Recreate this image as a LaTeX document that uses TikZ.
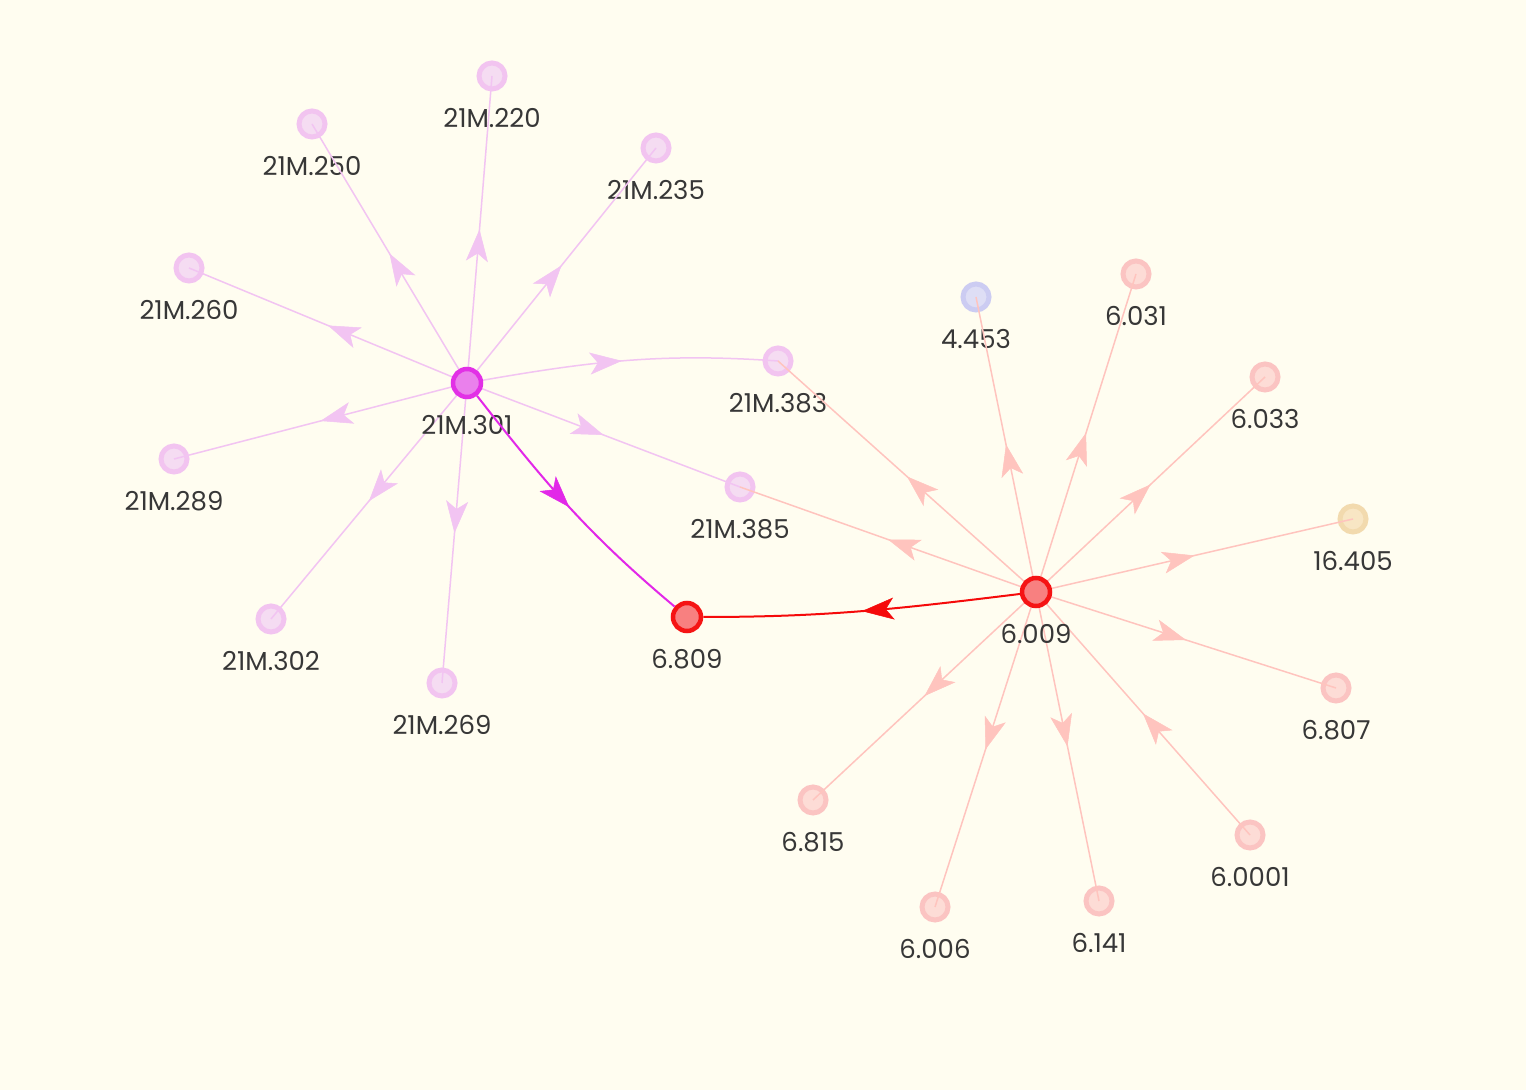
\documentclass[tikz,border=0pt]{standalone}
\usepackage{fontspec}
\setmainfont{Poppins}
\usetikzlibrary{arrows.meta,decorations.markings}
\definecolor{bg}{RGB}{255,253,240}
\definecolor{txt}{RGB}{55,55,55}
\definecolor{pinkline}{RGB}{242,196,242}
\definecolor{pinkfill}{RGB}{245,220,242}
\definecolor{pinkring}{RGB}{242,196,240}
\definecolor{hubpinkfill}{RGB}{234,128,236}
\definecolor{hubpinkring}{RGB}{226,48,230}
\definecolor{mainpink}{RGB}{226,40,232}
\definecolor{redline}{RGB}{255,196,190}
\definecolor{redfill}{RGB}{253,220,214}
\definecolor{redring}{RGB}{251,196,194}
\definecolor{hubredfill}{RGB}{248,128,128}
\definecolor{hubredring}{RGB}{245,20,20}
\definecolor{mainred}{RGB}{245,10,10}
\definecolor{bluefill}{RGB}{222,222,245}
\definecolor{bluering}{RGB}{204,204,242}
\definecolor{orangefill}{RGB}{248,230,196}
\definecolor{orangering}{RGB}{242,218,174}
\tikzset{
  leaf/.style={circle,inner sep=0pt,minimum size=26pt,line width=5pt},
  pinkleaf/.style={leaf,fill=pinkfill,draw=pinkring},
  redleaf/.style={leaf,fill=redfill,draw=redring},
  blueleaf/.style={leaf,fill=bluefill,draw=bluering},
  orangeleaf/.style={leaf,fill=orangefill,draw=orangering},
  hubpink/.style={circle,inner sep=0pt,minimum size=28pt,line width=4.5pt,fill=hubpinkfill,draw=hubpinkring},
  hubred/.style={circle,inner sep=0pt,minimum size=28pt,line width=4.5pt,fill=hubredfill,draw=hubredring},
  lbl/.style={inner sep=0pt,text=txt,font=\fontsize{26}{30}\selectfont},
  midarrow/.style={postaction={decorate},decoration={markings,mark=at position 0.5 with {\arrow[line width=0.5pt]{Stealth[length=32pt,width=22pt,inset=8pt]}}}},
  pinkspoke/.style={color=pinkline,line width=1.5pt,midarrow},
  redspoke/.style={color=redline,line width=1.5pt,midarrow},
  mainedge/.style={line width=2pt,midarrow},
}
\newcommand\vtx[5]{\node[#4] (#1) at (#2,#3) {}; \node[lbl] (#1-l) at (#2,#3-42) {#5};}
\begin{document}
\begin{tikzpicture}[x=1pt,y=1pt]
\useasboundingbox (0,0) rectangle (1526,1090);
\fill[bg] (0,0) rectangle (1526,1090);
% leaves
\vtx{a220}{492}{1014}{pinkleaf}{21M.220}
\vtx{a250}{312}{966}{pinkleaf}{21M.250}
\vtx{a235}{656}{942}{pinkleaf}{21M.235}
\vtx{a260}{189}{822}{pinkleaf}{21M.260}
\vtx{a289}{174}{631}{pinkleaf}{21M.289}
\vtx{a302}{271}{471}{pinkleaf}{21M.302}
\vtx{a269}{442}{407}{pinkleaf}{21M.269}
\vtx{a383}{778}{729}{pinkleaf}{21M.383}
\vtx{a385}{740}{603}{pinkleaf}{21M.385}
\vtx{b4453}{976}{793}{blueleaf}{4.453}
\vtx{b6031}{1136}{816}{redleaf}{6.031}
\vtx{b6033}{1265}{713}{redleaf}{6.033}
\vtx{b16405}{1353}{571}{orangeleaf}{16.405}
\vtx{b6807}{1336}{402}{redleaf}{6.807}
\vtx{b60001}{1250}{255}{redleaf}{6.0001}
\vtx{b6141}{1099}{189}{redleaf}{6.141}
\vtx{b6006}{935}{183}{redleaf}{6.006}
\vtx{b6815}{813}{290}{redleaf}{6.815}
% hub coordinates
\coordinate (hpc) at (467,707);
\coordinate (hrc) at (1036,498);
% pink spokes
\draw[pinkspoke] (hpc) -- (a220.center);
\draw[pinkspoke] (hpc) -- (a250.center);
\draw[pinkspoke] (hpc) -- (a235.center);
\draw[pinkspoke] (hpc) -- (a260.center);
\draw[pinkspoke] (hpc) -- (a289.center);
\draw[pinkspoke] (hpc) -- (a302.center);
\draw[pinkspoke] (hpc) -- (a269.center);
\draw[pinkspoke] (hpc) -- (a385.center);
\draw[pinkspoke] (hpc) to[out=10,in=176] (a383.center);
% red spokes
\draw[redspoke] (hrc) -- (a383.center);
\draw[redspoke] (hrc) -- (a385.center);
\draw[redspoke] (hrc) -- (b4453.center);
\draw[redspoke] (hrc) -- (b6031.center);
\draw[redspoke] (hrc) -- (b6033.center);
\draw[redspoke] (hrc) -- (b16405.center);
\draw[redspoke] (hrc) -- (b6807.center);
\draw[redspoke] (hrc) -- (b6141.center);
\draw[redspoke] (hrc) -- (b6006.center);
\draw[redspoke] (hrc) -- (b6815.center);
\draw[redspoke] (b60001.center) -- (hrc);
% hubs
\vtx{h301}{467}{707}{hubpink}{21M.301}
\vtx{h6009}{1036}{498}{hubred}{6.009}
\vtx{h6809}{687}{473}{hubred}{6.809}
% main edges
\draw[mainedge,color=mainpink] (h301) to[out=-52,in=140] (h6809);
\draw[mainedge,color=mainred] (h6009) to[out=187,in=0] (h6809);
\end{tikzpicture}
\end{document}
